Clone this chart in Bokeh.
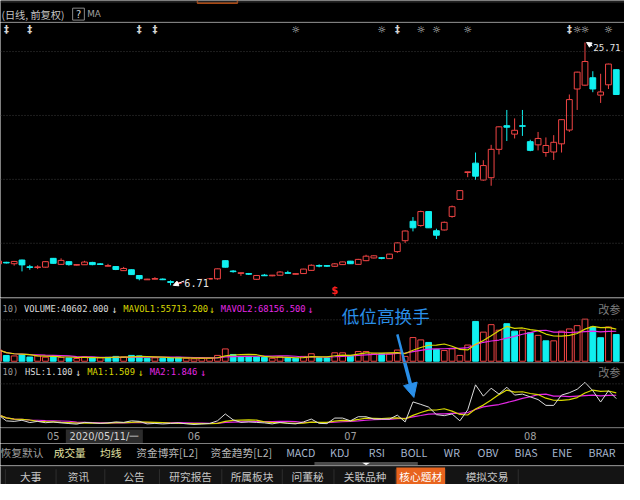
import numpy as np
import pandas as pd
from bokeh.plotting import figure
from bokeh.layouts import column
from bokeh.models import Range1d, ColumnDataSource, Span, Label, Arrow, NormalHead
from bokeh.core.properties import value
from bokeh.embed import file_html
from bokeh.resources import INLINE

# ---------------- data ----------------
OPEN = [8.39, 8.50, 8.40, 8.69, 8.15, 8.11, 8.13, 8.82, 8.35, 8.56,
        8.29, 8.32, 8.50, 8.38, 8.22, 8.18, 7.86, 7.93, 7.48, 7.15,
        7.20, 7.19, 7.00, 6.85, 6.95, 7.02, 7.10, 7.20, 7.22, 8.64,
        7.82, 7.66, 7.62, 7.18, 7.50, 7.46, 7.50, 7.69, 7.58, 7.63,
        7.88, 8.25, 8.25, 8.20, 8.33, 8.60, 8.35, 8.64, 8.85, 8.86,
        8.80, 9.35, 10.20, 11.72, 11.39, 12.48, 10.98, 11.04, 12.10, 13.43,
        15.55, 16.27, 14.95, 15.13, 17.35, 19.20, 18.54, 19.20, 17.95, 17.70,
        17.10, 17.14, 17.78, 18.86, 22.07, 22.37, 22.95, 21.59, 22.40, 23.58]
HIGH = [8.66, 8.55, 8.62, 8.72, 8.31, 8.28, 8.60, 8.85, 8.82, 8.60,
        8.35, 8.63, 8.55, 8.45, 8.39, 8.20, 8.15, 7.95, 7.50, 7.22,
        7.35, 7.25, 7.10, 6.96, 7.05, 7.10, 7.22, 7.26, 8.02, 8.66,
        7.90, 7.69, 7.68, 7.52, 7.60, 7.52, 7.83, 7.85, 7.64, 8.00,
        8.35, 8.35, 8.30, 8.45, 8.56, 8.62, 8.78, 9.10, 9.06, 8.90,
        9.17, 10.07, 11.00, 12.05, 12.55, 12.50, 11.14, 11.70, 12.95, 14.15,
        15.60, 17.10, 16.50, 17.70, 19.15, 20.43, 19.77, 20.43, 18.10, 18.71,
        18.28, 18.46, 19.70, 21.64, 23.42, 25.71, 23.46, 23.26, 24.05, 23.60]
LOW = [8.35, 8.42, 8.25, 7.80, 7.93, 7.98, 8.10, 8.40, 8.30, 8.25,
       8.25, 8.30, 8.28, 8.33, 8.20, 7.90, 7.83, 7.52, 7.10, 7.13,
       7.18, 7.12, 6.71, 6.80, 6.88, 6.95, 7.05, 7.18, 7.15, 8.10,
       7.70, 7.45, 7.52, 7.15, 7.44, 7.42, 7.48, 7.65, 7.56, 7.60,
       7.85, 8.12, 8.15, 8.15, 8.30, 8.38, 8.32, 8.60, 8.82, 8.75,
       8.77, 9.25, 10.02, 10.93, 11.30, 11.20, 10.33, 11.00, 12.00, 13.40,
       15.17, 14.95, 14.90, 14.50, 16.95, 18.00, 18.20, 18.40, 17.20, 17.27,
       16.77, 16.52, 17.10, 18.71, 20.43, 22.30, 21.82, 20.98, 22.07, 21.60]
CLOSE = [8.61, 8.47, 8.58, 8.31, 8.12, 8.14, 8.56, 8.43, 8.66, 8.33,
         8.33, 8.53, 8.33, 8.35, 8.24, 7.95, 8.03, 7.55, 7.23, 7.19,
         7.23, 7.16, 6.94, 6.92, 7.00, 7.05, 7.18, 7.24, 8.00, 8.13,
         7.79, 7.68, 7.59, 7.48, 7.47, 7.50, 7.75, 7.66, 7.62, 7.98,
         8.28, 8.22, 8.21, 8.39, 8.54, 8.40, 8.74, 8.99, 9.02, 8.83,
         9.15, 10.03, 10.96, 11.21, 12.48, 11.21, 10.63, 11.64, 12.86, 14.12,
         15.58, 15.25, 16.08, 17.35, 19.11, 19.08, 18.84, 19.15, 17.27, 18.20,
         17.65, 17.90, 19.67, 21.24, 23.39, 24.22, 22.07, 21.84, 24.02, 21.64]
VOLUME = [170000, 86200, 79400, 95300, 62800, 79299, 60500, 70100, 58300, 49064,
          40602, 65000, 58000, 51000, 58000, 72000, 65000, 87000, 80000, 44000,
          51000, 43000, 50000, 58000, 45000, 36000, 43000, 50000, 87000, 184000,
          101000, 65000, 72000, 65000, 58000, 44000, 65000, 51000, 44000, 72000,
          112000, 51000, 48000, 126000, 126000, 87000, 145000, 145000, 112000, 112000,
          112000, 167000, 72000, 354000, 319000, 281000, 174000, 160000, 184000, 87000,
          242000, 595000, 435000, 547000, 464000, 561000, 450000, 464000, 425000, 387000,
          305000, 305000, 450000, 483000, 532000, 629000, 512000, 352000, 512000, 400000]
FLOAT_LOTS = 3692000          # tradable shares, in lots (for turnover HSL)
CURSOR = 10                   # candle under the cursor
CURSOR_DATE = "2020/05/11/一"
MONTH_POS = [7, 25, 45, 68]
MONTH_LABELS = ["05", "06", "07", "08"]
STAR_POS = [1, 4, 18, 20, 38, 49, 51, 54, 56, 60, 73, 74, 75, 78]
STAR_KIND = ["‡", "‡", "‡", "‡", "☼", "☼", "‡", "☼", "☼", "☼", "‡", "☼", "☼", "☼"]
DOLLAR_POS = [43]
PRICE_GRID = [10, 15, 20, 25]
INDICATOR_TABS = ["恢复默认", "成交量", "均线", "资金博弈[L2]", "资金趋势[L2]", "MACD", "KDJ",
                  "RSI", "BOLL", "WR", "OBV", "BIAS", "ENE", "BRAR"]
BOTTOM_TABS = ["大事", "资讯", "公告", "研究报告", "所属板块", "问董秘", "关联品种", "核心题材", "模拟交易"]
ACTIVE_TAB = "核心题材"
NOTE = "低位高换手"

n = len(CLOSE)
assert all(len(a) == n for a in (OPEN, HIGH, LOW, VOLUME))

# ---------------- geometry / style ----------------
RW, RH = 640, 500
W, H = 624, 484
SX, SY = W / RW, H / RH
FS = SX
BOUNDS = [0, 23, 307, 374, 441, 458, 480, 500]
X0, DX = 6.0, 8.02                      # pixel of candle 1, pixel step
XS, XE = 1 - X0 / DX, 1 + (RW - X0) / DX
PRICE_REF, PRICE_REF_Y, PX_PER_YUAN = 25.0, 53.0, 13.2
VOL_ZERO_Y, VOL_PER_PX = 372.7, 14500.0
HSL_ZERO_Y, HSL_PX = 440.5, 2.7

RED = "#f04444"
CYAN = "#10f0f0"
YEL = "#d8d800"
MAG = "#e628e6"
WHITE = "#dcdcdc"
GRAY = "#9a9a9a"
BLUE = "#2a8fe8"
CJK = "Noto Sans CJK SC"
MONO = "DejaVu Sans Mono"


def fpx(s):
    return f"{s * FS:.1f}px"


def price_at(py):
    return PRICE_REF - (py - PRICE_REF_Y) / PX_PER_YUAN


class Panel:
    def __init__(self, k, ystart, yend, xstart=0, xend=RW, bg="black"):
        self.y0, self.y1 = BOUNDS[k], BOUNDS[k + 1]
        self.ys, self.ye, self.xs, self.xe = ystart, yend, xstart, xend
        hpx = round(self.y1 * SY) - round(self.y0 * SY)
        self.f = figure(width=W, height=hpx, x_range=Range1d(xstart, xend),
                        y_range=Range1d(ystart, yend), output_backend="svg",
                        toolbar_location=None, min_border=0,
                        x_axis_location=None, y_axis_location=None,
                        background_fill_color=bg, border_fill_color=bg,
                        outline_line_color=None)
        self.f.grid.visible = False

    def X(self, px):
        return self.xs + px / RW * (self.xe - self.xs)

    def Y(self, py):
        return self.ys + (self.y1 - py) / (self.y1 - self.y0) * (self.ye - self.ys)

    def text(self, px, py, s, color, size, align="left", font=CJK, style="normal"):
        self.f.text(x=[self.X(px)], y=[self.Y(py)], text=[s], text_color=color,
                    text_font_size=fpx(size), text_align=align, text_baseline="middle",
                    text_font=value(font), text_font_style=style)

    def hline(self, py, color, dash="solid", width=1):
        self.f.add_layout(Span(location=self.Y(py), dimension="width", line_color=color,
                               line_dash=dash, line_width=width))


idx = np.arange(n)
o, h, l, c = (np.array(a, dtype=float) for a in (OPEN, HIGH, LOW, CLOSE))
vol = np.array(VOLUME, dtype=float)
up = c >= o
prev_c = np.r_[o[0], c[:-1]]
vol_up = c >= prev_c
ma5 = pd.Series(vol).rolling(5, min_periods=1).mean().values
ma10 = pd.Series(vol).rolling(10, min_periods=1).mean().values
hsl = vol / FLOAT_LOTS * 100
hma5 = pd.Series(hsl).rolling(5, min_periods=1).mean().values
hma10 = pd.Series(hsl).rolling(10, min_periods=1).mean().values

# ---------------- top bar ----------------
tp = Panel(0, BOUNDS[1], BOUNDS[0])
tp.hline(1.5, "#3a3a3a")
tp.hline(22.5, "#2e2e2e")
tp.f.quad(left=202, right=243, top=-2, bottom=2.5, fill_color=None, line_color="#e0601a", line_width=1.5)
tp.text(1, 14.5, "(日线, 前复权)", "#c4c4c4", 10.5)
tp.f.quad(left=74, right=86, top=8, bottom=20.5, fill_color=None, line_color="#8a8a8a")
tp.text(80, 14.5, "?", "#d0d0d0", 10, align="center", font="DejaVu Sans")
tp.text(89, 14.5, "MA", "#a0a0a0", 9, font="DejaVu Sans")

# ---------------- main candlestick panel ----------------
mp = Panel(1, price_at(BOUNDS[2]), price_at(BOUNDS[1]), XS, XE)
for lv in PRICE_GRID:
    mp.f.add_layout(Span(location=lv, dimension="width", line_color="#3c3c3c",
                         line_dash="1 2", line_width=1))
top = np.maximum(o, c)
bot = np.minimum(o, c)
mid = (top + bot) / 2
thin = (top - bot) < 0.05
top = np.where(thin, mid + 0.025, top)
bot = np.where(thin, mid - 0.025, bot)
src = ColumnDataSource(dict(i=idx, o=o, h=h, l=l, c=c, top=top, bot=bot,
                            col=[RED if u else CYAN for u in up],
                            fill=["black" if u else CYAN for u in up]))
mp.f.segment(x0="i", y0="l", x1="i", y1="h", line_color="col", line_width=1, source=src)
mp.f.vbar(x="i", width=0.74, top="top", bottom="bot", fill_color="fill",
          line_color="col", line_width=1, source=src)

mp.f.text(x=STAR_POS, y=[mp.Y(30)] * len(STAR_POS), text=STAR_KIND, text_color="#d4d4d4",
          text_font_size=fpx(10), text_align="center", text_baseline="middle",
          text_font=value("DejaVu Sans"), text_font_style="bold")
mp.f.text(x=DOLLAR_POS, y=[mp.Y(300)] * len(DOLLAR_POS), text=["$"] * len(DOLLAR_POS),
          text_color="#ff2020", text_font_size=fpx(10), text_align="center",
          text_baseline="middle", text_font=value("DejaVu Sans"), text_font_style="bold")

imax = int(np.argmax(h))
imin = int(np.argmin(l))
head = dict(size=5, fill_color="white", line_color="white")
mp.f.add_layout(Arrow(end=NormalHead(**head), x_start=imax + 0.95, y_start=h[imax] - 0.28,
                      x_end=imax + 0.2, y_end=h[imax], line_color="white", line_width=1))
mp.f.add_layout(Label(x=imax + 1.05, y=h[imax] - 0.38, text=f"{h[imax]:.2f}",
                      text_color="#e6e6e6", text_font_size=fpx(9.3), text_font=MONO,
                      text_baseline="middle"))
mp.f.add_layout(Label(x=imin + 1.75, y=l[imin] + 0.22, text=f"{l[imin]:.2f}",
                      text_color="#e6e6e6", text_font_size=fpx(10.5), text_font=MONO,
                      text_baseline="middle", background_fill_color="black"))
mp.f.add_layout(Arrow(end=NormalHead(**head), x_start=imin + 1.7, y_start=l[imin] + 0.33,
                      x_end=imin + 0.35, y_end=l[imin], line_color="white", line_width=1))

# ---------------- volume panel ----------------
vp = Panel(2, (VOL_ZERO_Y - BOUNDS[3]) * VOL_PER_PX, (VOL_ZERO_Y - BOUNDS[2]) * VOL_PER_PX, XS, XE)
vp.hline(308, "#343434")
vp.hline(330, "#3c3c3c", dash="1 2")
vsrc = ColumnDataSource(dict(i=idx, v=vol, col=[RED if u else CYAN for u in vol_up],
                             fill=["black" if u else CYAN for u in vol_up]))
vp.f.vbar(x="i", width=0.74, top="v", bottom=0, fill_color="fill", line_color="col",
          line_width=1, source=vsrc)
vp.f.line(idx, ma10, line_color=MAG, line_width=1.2)
vp.f.line(idx, ma5, line_color=YEL, line_width=1.2)
vp.text(2, 319, "10)", GRAY, 9, font=MONO)
vp.text(24, 319, f"VOLUME:{vol[CURSOR]:.3f}", WHITE, 9, font=MONO)
vp.text(114, 319, "↓", WHITE, 10, font=MONO)
vp.text(126, 319, f"MAVOL1:{ma5[CURSOR]:.3f}", YEL, 9, font=MONO)
vp.text(214, 319, "↓", YEL, 10, font=MONO)
vp.text(226, 319, f"MAVOL2:{ma10[CURSOR]:.3f}", MAG, 9, font=MONO)
vp.text(315, 319, "↓", MAG, 10, font=MONO)
vp.text(613, 319, "改参", "#7c7c7c", 11.5)
vp.text(350, 326, NOTE, BLUE, 18)
ax, ay, tx, ty = 407.0, 345.0, 424.0, 410.0
bx = ax + (tx - ax) * (BOUNDS[3] - ay) / (ty - ay)
vp.f.add_layout(Arrow(end=None, x_start=vp.X(ax), y_start=vp.Y(ay), x_end=vp.X(bx),
                      y_end=vp.Y(BOUNDS[3]), line_color=BLUE, line_width=2.5))

# ---------------- HSL panel ----------------
hp = Panel(3, (HSL_ZERO_Y - BOUNDS[4]) / HSL_PX, (HSL_ZERO_Y - BOUNDS[3]) / HSL_PX, XS, XE)
hp.hline(374.5, "#2c2c2c")
hp.hline(396, "#3c3c3c", dash="1 2")
hp.f.line(idx, hma10, line_color=MAG, line_width=1.2)
hp.f.line(idx, hma5, line_color=YEL, line_width=1.2)
hp.f.line(idx, hsl, line_color=WHITE, line_width=1)
hp.text(2, 384, "10)", GRAY, 9, font=MONO)
hp.text(25, 384, f"HSL:{hsl[CURSOR]:.3f}", WHITE, 9, font=MONO)
hp.text(77, 384, "↓", WHITE, 10, font=MONO)
hp.text(89, 384, f"MA1:{hma5[CURSOR]:.3f}", YEL, 9, font=MONO)
hp.text(141, 384, "↓", YEL, 10, font=MONO)
hp.text(153, 384, f"MA2:{hma10[CURSOR]:.3f}", MAG, 9, font=MONO)
hp.text(205, 384, "↓", MAG, 10, font=MONO)
hp.text(613, 384, "改参", "#7c7c7c", 11.5)
hp.f.add_layout(Arrow(end=NormalHead(size=14, fill_color=BLUE, line_color=BLUE),
                      x_start=hp.X(bx), y_start=hp.Y(BOUNDS[3]), x_end=hp.X(tx), y_end=hp.Y(ty),
                      line_color=BLUE, line_width=3.5))

# ---------------- date axis ----------------
ap = Panel(4, BOUNDS[5], BOUNDS[4], XS, XE)
ap.hline(441.5, "#303030")
ap.f.text(x=MONTH_POS, y=[450] * len(MONTH_POS), text=MONTH_LABELS, text_color="#a0a0a0",
          text_font_size=fpx(10), text_align="center", text_baseline="middle",
          text_font=value("DejaVu Sans"))
ap.f.quad(left=ap.X(67), right=ap.X(146), top=443, bottom=458, fill_color="#2c2c2c", line_color=None)
ap.text(106.5, 450.5, CURSOR_DATE, "#d4d4d4", 10, align="center", font="DejaVu Sans")

# ---------------- indicator tabs ----------------
fp = Panel(5, BOUNDS[6], BOUNDS[5])
ind_x = [22, 71, 113, 171, 247, 308, 348, 386, 424, 463, 500, 539, 576, 617]
for name, x in zip(INDICATOR_TABS, ind_x):
    if name == "恢复默认":
        col = "#a0a0a0"
    elif name in ("成交量", "均线"):
        col = "#e2e2a4"
    elif name.isascii():
        col = "#a6b6ce"
    else:
        col = "#b8b8b8"
    fp.text(x, 467, name, col, 11, align="center")
fp.f.quad(left=322, right=428, top=476.5, bottom=481, fill_color="#4a4a4a", line_color=None)
fp.f.patch(x=[371, 379, 375], y=[477.3, 477.3, 479.6], fill_color="white", line_color=None)

# ---------------- bottom tabs ----------------
gp = Panel(6, BOUNDS[7], BOUNDS[6], bg="#141414")
gp.hline(481, "#2a2a2a")
tab_x = [31, 80, 137, 195, 258, 315, 374, 431, 499]
seps = [5, 57, 107, 163, 227, 289, 342, 405, 456, 531]
gp.f.segment(x0=seps, y0=[484] * len(seps), x1=seps, y1=[500] * len(seps),
             line_color="#2e2e2e", line_width=1)
for name, x in zip(BOTTOM_TABS, tab_x):
    if name == ACTIVE_TAB:
        gp.f.quad(left=406, right=456, top=482, bottom=500, fill_color="#e8641e", line_color=None)
        gp.text(x, 491.5, name, "#ffffff", 11, align="center")
    else:
        gp.text(x, 491.5, name, "#c6c6c6", 11, align="center")

layout = column(tp.f, mp.f, vp.f, hp.f, ap.f, fp.f, gp.f, spacing=0)
open("out.html", "w").write(file_html(layout, INLINE))
